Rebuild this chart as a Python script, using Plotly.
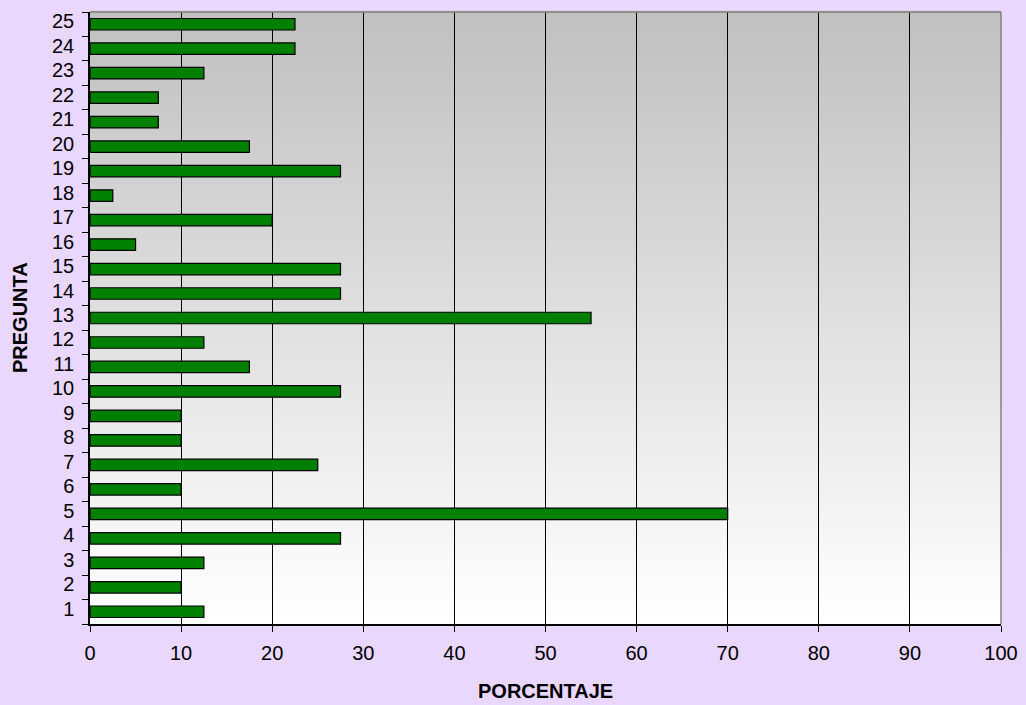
import plotly.graph_objects as go

preguntas = [str(i) for i in range(1, 26)]
porcentaje = [12.5, 10, 12.5, 27.5, 70, 10, 25, 10, 10, 27.5,
              17.5, 12.5, 55, 27.5, 27.5, 5, 20, 2.5, 27.5, 17.5,
              7.5, 7.5, 12.5, 22.5, 22.5]
x_ticks = list(range(0, 101, 10))

FONT = "Liberation Sans, Arial, sans-serif"

fig = go.Figure()
fig.add_trace(go.Bar(
    x=porcentaje, y=preguntas, orientation="h",
    width=0.47,
    marker=dict(color="#008000", line=dict(color="#000000", width=1.2)),
    hoverinfo="x+y",
))

# vertical gray-to-white gradient behind the plot area
shapes = []
n = 120
for i in range(n):
    t = i / (n - 1)
    v = int(round(192 + (255 - 192) * t))
    shapes.append(dict(
        type="rect", xref="x domain", yref="y domain",
        x0=0, x1=1, y0=1 - (i + 1) / n, y1=1 - i / n + 0.002,
        fillcolor=f"rgb({v},{v},{v})", line=dict(width=0), layer="below",
    ))
# gray frame on the top and right edges
shapes.append(dict(type="line", xref="x domain", yref="y domain",
                   x0=0, x1=1, y0=1, y1=1, line=dict(color="#808080", width=1.5)))
shapes.append(dict(type="line", xref="x domain", yref="y domain",
                   x0=1, x1=1, y0=0, y1=1, line=dict(color="#808080", width=1.5)))

annotations = [
    dict(text="<b>PORCENTAJE</b>", xref="paper", yref="paper",
         x=0.5, y=-0.1095, xanchor="center", yanchor="middle",
         showarrow=False, font=dict(size=20, family=FONT, color="#000000")),
    dict(text="<b>PREGUNTA</b>", xref="paper", yref="paper",
         x=-0.0768, y=0.50, xanchor="center", yanchor="middle", textangle=-90,
         showarrow=False, font=dict(size=20, family=FONT, color="#000000")),
]

fig.update_layout(
    width=1026, height=705,
    margin=dict(l=90, r=25, t=12, b=81, autoexpand=False),
    paper_bgcolor="#E9D7FD",
    plot_bgcolor="rgba(0,0,0,0)",
    showlegend=False,
    bargap=0.5,
    shapes=shapes,
    annotations=annotations,
    font=dict(family=FONT, color="#000000"),
)

fig.update_xaxes(
    range=[0, 100], tickvals=x_ticks,
    showgrid=True, gridcolor="#000000", gridwidth=1.2,
    showline=True, linecolor="#000000", linewidth=1.5,
    ticks="outside", ticklen=6, tickcolor="#000000",
    tickfont=dict(size=20, family=FONT),
    ticklabelstandoff=4,
    zeroline=False,
)

fig.update_yaxes(
    type="category", categoryorder="array", categoryarray=preguntas,
    range=[-0.5, 24.5],
    tickson="boundaries",
    showgrid=False,
    showline=True, linecolor="#000000", linewidth=1.5,
    ticks="outside", ticklen=6, tickcolor="#000000",
    tickfont=dict(size=20, family=FONT),
    ticklabelshift=-3,
    ticklabelstandoff=10,
)

fig.write_html("out.html")
